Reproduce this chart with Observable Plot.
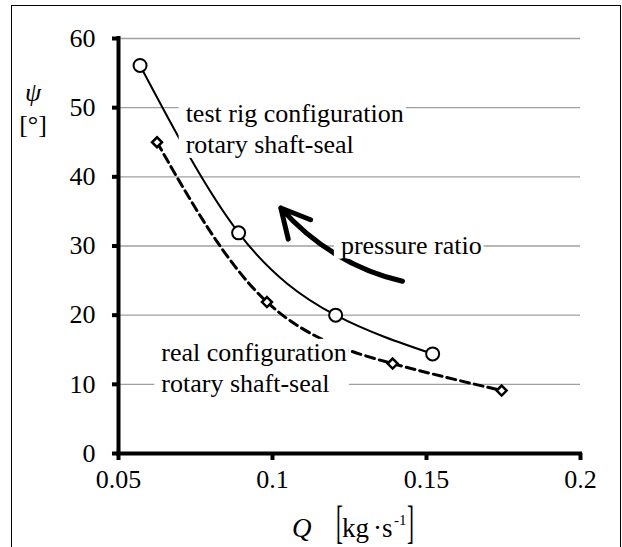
<!DOCTYPE html>
<html>
<head>
<meta charset="utf-8">
<script src="https://cdn.jsdelivr.net/npm/d3@7"></script>
<script src="https://cdn.jsdelivr.net/npm/@observablehq/plot@0.6"></script>
<style>
  html, body { margin: 0; padding: 0; background: #fff; overflow: hidden; }
  #chart { position: relative; width: 622px; height: 547px; }
  #border { position: absolute; left: 11px; top: 5px; width: 610px; height: 600px;
            border: 1.5px solid #000; box-sizing: border-box; pointer-events: none; }
</style>
</head>
<body>
<div id="chart"><div id="border"></div></div>
<script>
// Flow rate Q [kg/s] and angle psi [deg], test rig configuration (circles)
const testRigQ   = [0.057, 0.089, 0.1205, 0.152];
const testRigPsi = [56.1, 31.9, 20.0, 14.4];

// Real configuration (diamonds)
const realQ   = [0.0625, 0.0982, 0.139, 0.1744];
const realPsi = [45.0, 21.9, 13.0, 9.1];

const xTicks = [0.05, 0.1, 0.15, 0.2];
const yTicks = [0, 10, 20, 30, 40, 50, 60];

// In-plot annotations, placed in data units
const noteLabels = ["test rig configuration\nrotary shaft-seal", "pressure ratio", "real configuration\nrotary shaft-seal"];
const noteQ      = [0.0718, 0.1222, 0.0639];
const notePsi    = [47.1, 30.3, 12.6];

// Arrow showing increasing pressure ratio
const arrowStart = {q: 0.1422, psi: 24.9};
const arrowEnd   = {q: 0.1027, psi: 35.5};

const testRig = testRigQ.map((q, i) => ({q, psi: testRigPsi[i]}));
const real = realQ.map((q, i) => ({q, psi: realPsi[i]}));
const notes = noteLabels.map((label, i) => ({label, q: noteQ[i], psi: notePsi[i]}));

const serif = "'Liberation Serif', 'Times New Roman', serif";

const plot = Plot.plot({
  width: 622,
  height: 547,
  marginLeft: 118,
  marginRight: 42,
  marginTop: 38,
  marginBottom: 94,
  style: {fontFamily: serif, fontSize: "26px", background: "white", color: "black"},
  x: {domain: [0.05, 0.2], label: null},
  y: {domain: [0, 60], label: null},
  marks: [
    Plot.gridY(yTicks.filter(d => d > 0), {stroke: "#a0a0a0", strokeOpacity: 1, strokeWidth: 1.4}),
    Plot.line(real, {x: "q", y: "psi", curve: "natural", stroke: "black", strokeWidth: 3, strokeDasharray: "9,5"}),
    Plot.line(testRig, {x: "q", y: "psi", curve: "natural", stroke: "black", strokeWidth: 2}),
    Plot.dot(testRig, {x: "q", y: "psi", r: 6.5, stroke: "black", strokeWidth: 2, fill: "white"}),
    Plot.dot(real, {x: "q", y: "psi", symbol: "diamond2", r: 4.5, stroke: "black", strokeWidth: 2.5, fill: "white"}),
    Plot.arrow([{}], {
      x1: () => arrowStart.q, y1: () => arrowStart.psi,
      x2: () => arrowEnd.q, y2: () => arrowEnd.psi,
      bend: 18, stroke: "black", strokeWidth: 5, headLength: 9.6, headAngle: 55
    }),
    Plot.ruleX([0.05], {y1: 0, y2: 60, stroke: "black", strokeWidth: 4, strokeLinecap: "square"}),
    Plot.ruleY([0], {x1: 0.05, x2: 0.2, stroke: "black", strokeWidth: 4, strokeLinecap: "square"}),
    Plot.axisY(yTicks, {tickSize: 6, tickPadding: 17, fontSize: 26, strokeWidth: 4, label: null}),
    Plot.axisX(xTicks, {tickSize: 7, tickPadding: 9, fontSize: 26, strokeWidth: 4, label: null, tickFormat: d => String(d)}),
    Plot.text(notes, {x: "q", y: "psi", text: "label", textAnchor: "start", lineAnchor: "middle",
                      lineHeight: 1.18, fontSize: 26, fill: "black"})
  ]
});

const chart = document.getElementById("chart");
chart.insertBefore(plot, document.getElementById("border"));

// White boxes behind the annotations so grid lines and curves break around them
const svg = d3.select(plot);
svg.selectAll('g[aria-label="text"] text').each(function () {
  const b = this.getBBox();
  const padL = 7, padR = 2;
  d3.select(this.parentNode).insert("rect", () => this)
    .attr("x", b.x - padL).attr("y", b.y + 1)
    .attr("width", b.width + padL + padR).attr("height", b.height - 2)
    .attr("fill", "white")
    .attr("transform", this.getAttribute("transform"));
});

// Axis titles
const labels = svg.append("g").attr("font-family", serif).attr("fill", "black").attr("text-anchor", "start");
labels.append("text").attr("x", 33).attr("y", 101).attr("text-anchor", "middle")
  .attr("font-size", 26).attr("font-style", "italic").text("ψ");
labels.append("text").attr("x", 33).attr("y", 133).attr("text-anchor", "middle")
  .attr("font-size", 26).text("[°]");

const xs = plot.scale("x");
const cx = (xs.range[0] + xs.range[1]) / 2;
const base = 537;
labels.append("text").attr("x", cx - 57).attr("y", base)
  .attr("font-size", 27).attr("font-style", "italic").text("Q");
labels.append("text").attr("transform", `translate(${cx - 13},${base + 1}) scale(0.8,1.8)`)
  .attr("font-size", 26).text("[");
labels.append("text").attr("x", cx - 7).attr("y", base).attr("font-size", 27).text("kg");
labels.append("text").attr("x", cx + 24).attr("y", base).attr("font-size", 27).text("·");
labels.append("text").attr("x", cx + 33).attr("y", base).attr("font-size", 27).text("s");
labels.append("text").attr("x", cx + 45).attr("y", base - 12).attr("font-size", 15).text("-1");
labels.append("text").attr("transform", `translate(${cx + 58},${base + 1}) scale(0.8,1.8)`)
  .attr("font-size", 26).text("]");
</script>
</body>
</html>
